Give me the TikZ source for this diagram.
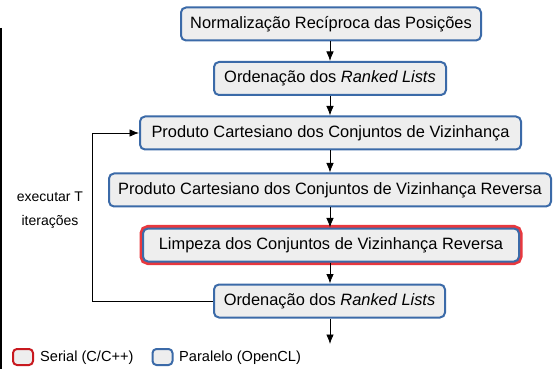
\documentclass[tikz,border=0pt]{standalone}
\usepackage{fontspec}
\setmainfont{Liberation Sans}
\usetikzlibrary{arrows.meta}
\definecolor{bord}{HTML}{3B6AA8}
\definecolor{fillg}{HTML}{EEEEEE}
\definecolor{redring}{HTML}{E8383E}
\definecolor{legred}{HTML}{C8191F}
\begin{document}
\begin{tikzpicture}[x=1pt,y=-1pt,
  stepbox/.style={draw=bord, fill=fillg, line width=2pt, rounded corners=5pt,
    minimum height=33pt, inner sep=0pt, font=\fontsize{16.4}{18}\selectfont},
  serialbox/.style={stepbox, preaction={draw=redring, line width=7pt}},
  conn/.style={draw=black, line width=0.8pt, -{Latex[length=9.5pt,width=7.5pt]}},
  legbox/.style={fill=fillg, line width=2pt, rounded corners=4pt, minimum width=20pt, minimum height=16pt, inner sep=0pt},
  lbl/.style={font=\fontsize{14}{16}\selectfont, inner sep=0pt},
  leglbl/.style={font=\fontsize{14.6}{16}\selectfont, inner sep=0pt, anchor=west}]
\useasboundingbox (0,0) rectangle (558,369);
\draw[line width=1.3pt] (1,28) -- (1,369);
\node[stepbox, minimum width=300pt] (b1) at (331,24) {Normalização Recíproca das Posições};
\node[stepbox, minimum width=232pt] (b2) at (330,78.5) {Ordenação dos \textit{Ranked Lists}};
\node[stepbox, minimum width=381pt] (b3) at (330.5,133) {Produto Cartesiano dos Conjuntos de Vizinhança};
\node[stepbox, minimum width=442pt] (b4) at (330,190) {Produto Cartesiano dos Conjuntos de Vizinhança Reversa};
\node[serialbox, minimum width=376pt] (b5) at (331,245) {Limpeza dos Conjuntos de Vizinhança Reversa};
\node[stepbox, minimum width=231pt] (b6) at (329.5,301) {Ordenação dos \textit{Ranked Lists}};
\coordinate (end) at (330,344);
\coordinate (lp) at (92,0);
\draw[conn] (b1.south -| 330,0) -- (b2.north -| 330,0);
\draw[conn] (b2.south -| 330,0) -- (b3.north -| 330,0);
\draw[conn] (b3.south -| 330,0) -- (b4.north -| 330,0);
\draw[conn] (b4.south -| 330,0) -- (b5.north -| 330,0);
\draw[conn] (b5.south -| 330,0) -- (b6.north -| 330,0);
\draw[conn] (b6.south -| 330,0) -- (end);
\draw[conn] (b6.west) -- (b6.west -| lp) -- (b3.west -| lp) -- (b3.west);
\node[lbl] (t1) at (50,197) {executar T};
\node[lbl] (t2) at (50,222) {iterações};
\node[legbox, draw=legred] (lr) at (23,357) {};
\node[leglbl] (lrt) at (40,358) {Serial (C/C++)};
\node[legbox, draw=bord] (lb) at (162.5,357) {};
\node[leglbl] (lbt) at (179,358) {Paralelo (OpenCL)};
\end{tikzpicture}
\end{document}
